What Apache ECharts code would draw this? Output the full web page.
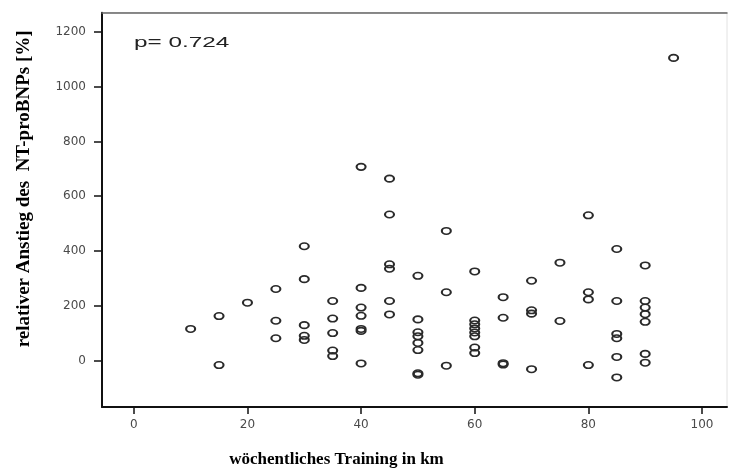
<!DOCTYPE html>
<html>
<head>
<meta charset="utf-8">
<script src="https://cdn.jsdelivr.net/npm/echarts@6/dist/echarts.min.js"></script>
<style>html,body{margin:0;padding:0;background:#fff;}#c{width:729px;height:473px;}</style>
</head>
<body>
<div id="c"></div>
<script>
// weekly training (km) for each runner
var trainingKm = [
  10,
  15, 15,
  20,
  25, 25, 25,
  30, 30, 30, 30, 30,
  35, 35, 35, 35, 35,
  40, 40, 40, 40, 40, 40, 40,
  45, 45, 45, 45, 45, 45,
  50, 50, 50, 50, 50, 50, 50, 50,
  55, 55, 55,
  60, 60, 60, 60, 60, 60, 60, 60,
  65, 65, 65, 65,
  70, 70, 70, 70,
  75, 75,
  80, 80, 80, 80,
  85, 85, 85, 85, 85, 85,
  90, 90, 90, 90, 90, 90, 90,
  95
];
// relative increase of NT-proBNP (%)
var bnpIncrease = [
  115,
  162, -17,
  211,
  261, 145, 81,
  417, 297, 129, 90, 75,
  217, 153, 100, 36, 16,
  707, 265, 193, 163, 115, 108, -11,
  664, 533, 351, 335, 217, 168,
  309, 150, 103, 88, 64, 38, -47, -52,
  473, 249, -19,
  325, 146, 132, 117, 102, 88, 47, 27,
  231, 156, -10, -15,
  291, 183, 171, -32,
  357, 144,
  530, 249, 223, -17,
  407, 217, 97, 81, 13, -62,
  347, 217, 193, 169, 141, 24, -8,
  1105
];
var xTicks = [0, 20, 40, 60, 80, 100];
var yTicks = [0, 200, 400, 600, 800, 1000, 1200];
var pText = 'p= 0.724';
var xTitle = 'wöchentliches Training in km';
var yTitle = 'relativer Anstieg des  NT-proBNPs [%]';

var points = trainingKm.map(function (k, i) { return [k, bnpIncrease[i]]; });

var chart = echarts.init(document.getElementById('c'), null, { renderer: 'canvas' });
var labelStyle = { color: '#4a4a4a', fontFamily: 'DejaVu Sans', fontSize: 12, formatter: function (v) { return String(v); } };
chart.setOption({
  animation: false,
  backgroundColor: '#fff',
  grid: { left: 102, right: 2, top: 12.7, bottom: 60, show: true, borderColor: '#e2e2e2', borderWidth: 1, backgroundColor: 'transparent' },
  xAxis: [{
    type: 'value', min: -5.6, max: 104.4, position: 'bottom',
    splitLine: { show: false },
    axisLine: { onZero: false, lineStyle: { color: '#111', width: 2 } },
    axisTick: { show: true, length: 7, lineStyle: { color: '#111', width: 1.5 }, customValues: xTicks },
    axisLabel: Object.assign({ margin: 12, customValues: xTicks }, labelStyle),
    name: xTitle, nameLocation: 'middle', nameGap: 44,
    nameTextStyle: { fontFamily: 'Liberation Serif', fontWeight: 'bold', fontSize: 17, color: '#000', padding: [0, 156, 0, 0] }
  }, {
    type: 'value', min: -5.6, max: 104.4, position: 'top',
    splitLine: { show: false }, axisTick: { show: false }, axisLabel: { show: false },
    axisLine: { onZero: false, lineStyle: { color: '#666', width: 1.5 } }
  }],
  yAxis: {
    type: 'value', min: -170, max: 1270,
    splitLine: { show: false },
    axisLine: { onZero: false, lineStyle: { color: '#111', width: 2 } },
    axisTick: { show: true, length: 8, lineStyle: { color: '#111', width: 1.5 }, customValues: yTicks },
    axisLabel: Object.assign({ margin: 16, customValues: yTicks }, labelStyle),
    name: yTitle, nameLocation: 'middle', nameGap: 68,
    nameTextStyle: { fontFamily: 'Liberation Serif', fontWeight: 'bold', fontSize: 19, color: '#000', padding: [0, 0, 0, 42] }
  },
  graphic: [{
    type: 'text', x: 134, y: 43, scaleX: 1.62,
    style: { text: pText, fontFamily: 'Liberation Sans', fontSize: 15, fill: '#222', verticalAlign: 'middle' }
  }],
  series: [{
    type: 'scatter',
    xAxisIndex: 0,
    data: points,
    symbol: 'circle',
    symbolSize: [9, 6.5],
    itemStyle: { color: 'rgba(0,0,0,0)', borderColor: '#2a2a2a', borderWidth: 1.8, opacity: 1 },
    emphasis: { disabled: true }
  }]
});
</script>
</body>
</html>
